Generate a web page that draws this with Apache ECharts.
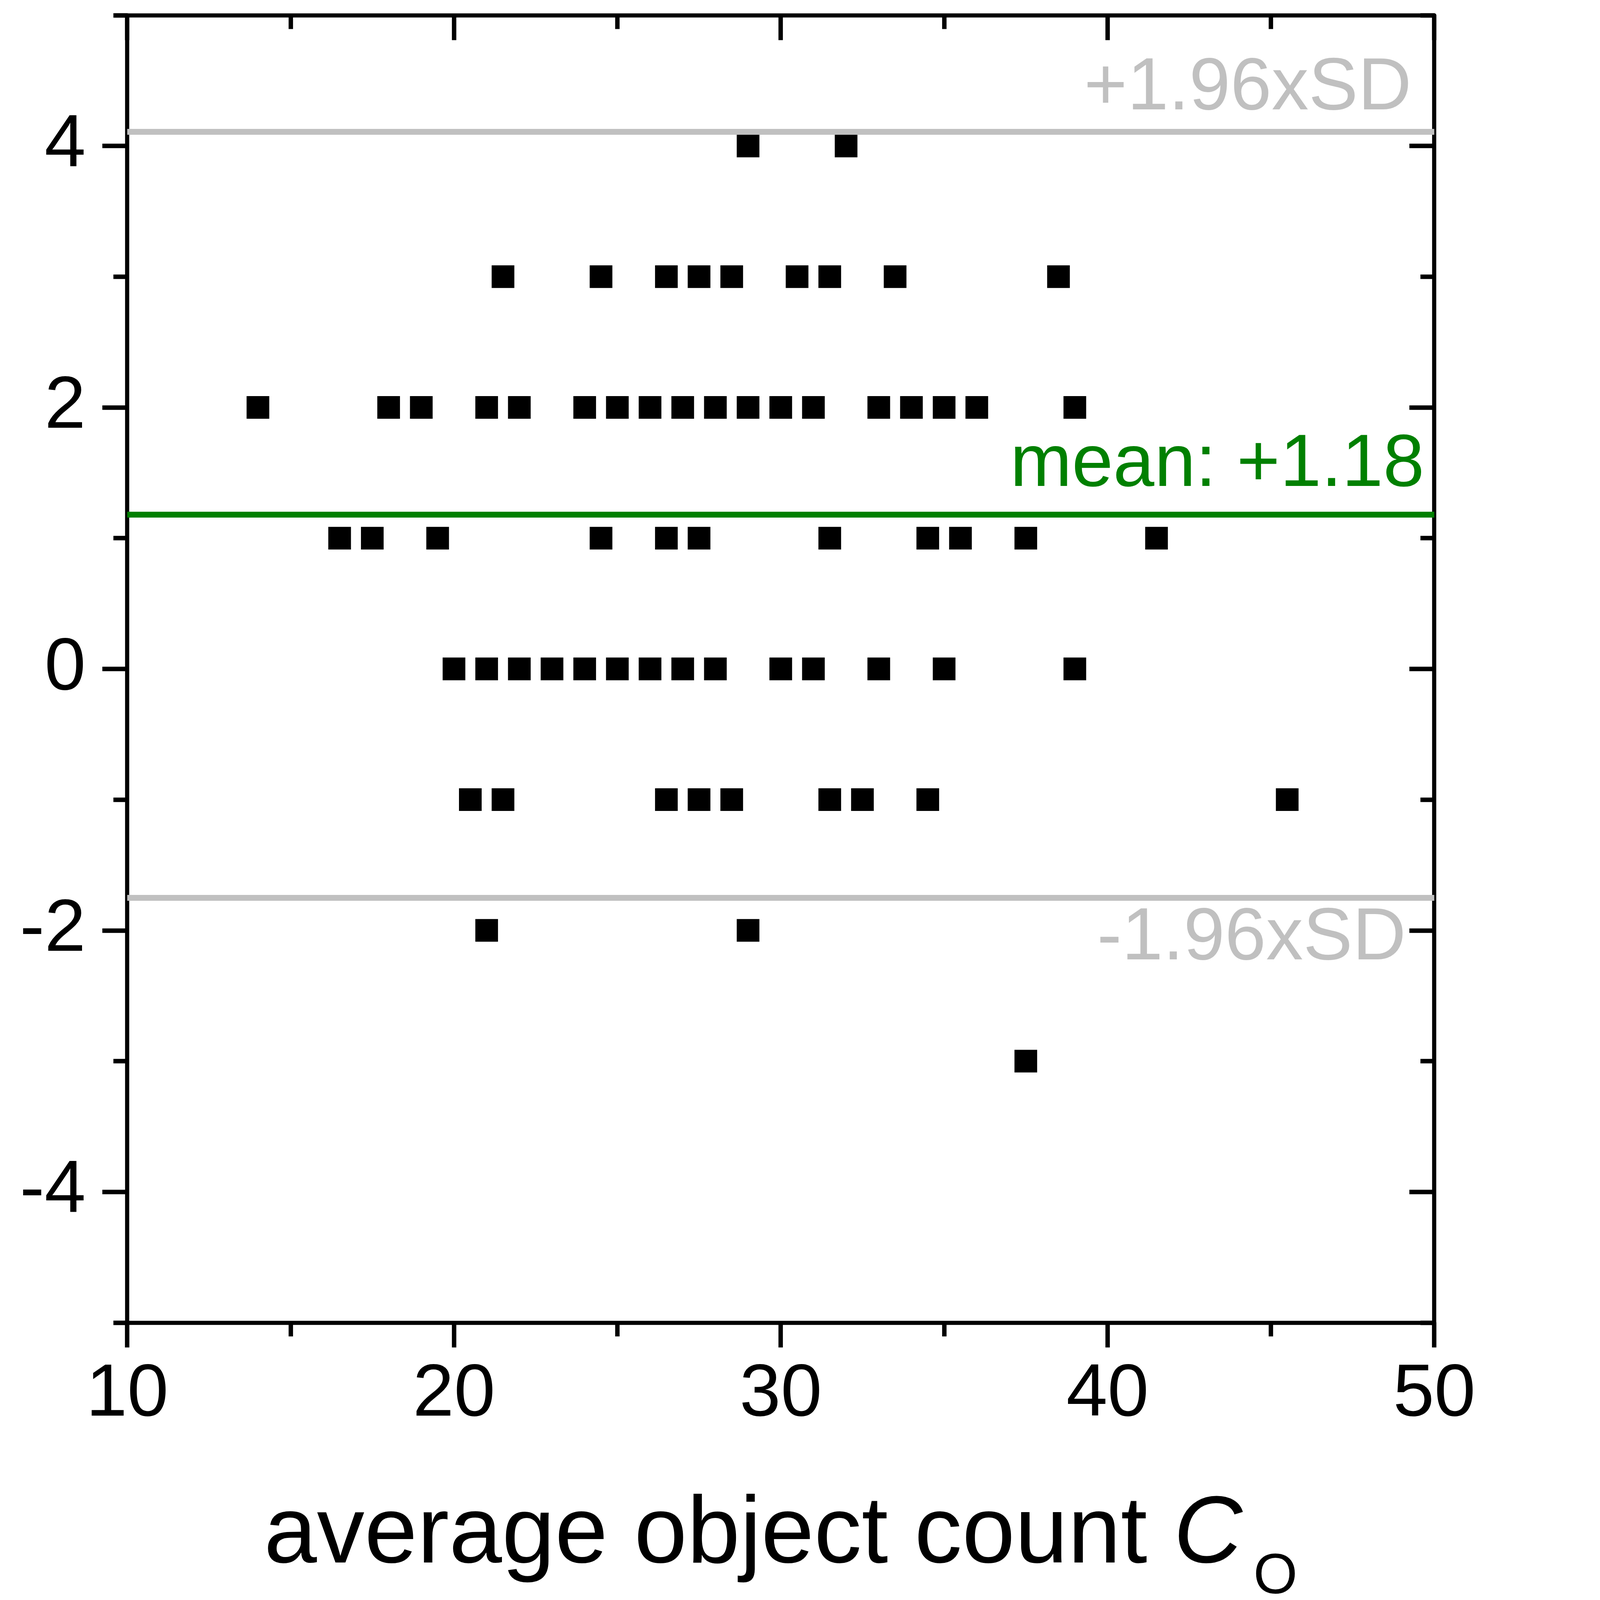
<!DOCTYPE html>
<html>
<head>
<meta charset="utf-8">
<script src="https://cdn.jsdelivr.net/npm/echarts@6/dist/echarts.min.js"></script>
<style>
html,body{margin:0;padding:0;background:#fff;overflow:hidden;}
#chart{width:5346px;height:5785px;}
</style>
</head>
<body>
<div id="chart"></div>
<script>
// Bland-Altman data: average object count vs. difference
const avgCount = [
  29, 32,
  21.5, 24.5, 26.5, 27.5, 28.5, 30.5, 31.5, 33.5, 38.5,
  14, 18, 19, 21, 22, 24, 25, 26, 27, 28, 29, 30, 31, 33, 34, 35, 36, 39,
  16.5, 17.5, 19.5, 24.5, 26.5, 27.5, 31.5, 34.5, 35.5, 37.5, 41.5,
  20, 21, 22, 23, 24, 25, 26, 27, 28, 30, 31, 33, 35, 39,
  20.5, 21.5, 26.5, 27.5, 28.5, 31.5, 32.5, 34.5, 45.5,
  21, 29,
  37.5
];
const difference = [
  4, 4,
  3, 3, 3, 3, 3, 3, 3, 3, 3,
  2, 2, 2, 2, 2, 2, 2, 2, 2, 2, 2, 2, 2, 2, 2, 2, 2, 2,
  1, 1, 1, 1, 1, 1, 1, 1, 1, 1, 1,
  0, 0, 0, 0, 0, 0, 0, 0, 0, 0, 0, 0, 0, 0,
  -1, -1, -1, -1, -1, -1, -1, -1, -1,
  -2, -2,
  -3
];
const meanDiff = 1.18;
const upperLimit = 4.11;
const lowerLimit = -1.75;
const upperLabel = '+1.96xSD';
const lowerLabel = '-1.96xSD';
const meanLabel = 'mean: +1.18';
const xTicks = [10, 20, 30, 40, 50];
const yMajorTicks = [-4, -2, 0, 2, 4];
const yMinorTicks = [-5, -3, -1, 1, 3, 5];

const points = avgCount.map((x, i) => [x, difference[i]]);

// scale everything to the actual window (1 when the window is 5346x5785)
const S = Math.min((window.innerWidth || 5346) / 5346, (window.innerHeight || 5785) / 5785, 1);
const el = document.getElementById('chart');
el.style.width = Math.floor(5346 * S) + 'px';
el.style.height = Math.floor(5785 * S) + 'px';
const k = v => v * S;

const FONT = '"Liberation Sans", Arial, sans-serif';
const LW = k(15);
const TW = k(16);
const MAJ = k(90), MIN = k(50);
const TICK_FONT = k(268);

function xAx(pos, inside, showLabel) {
  return {
    type: 'value', position: pos, min: xTicks[0], max: xTicks[xTicks.length - 1], interval: 10,
    axisLine: { show: true, onZero: false, lineStyle: { color: '#000', width: LW } },
    axisTick: { show: true, inside: inside, length: MAJ, lineStyle: { color: '#000', width: TW } },
    minorTick: { show: true, splitNumber: 2, length: MIN, lineStyle: { color: '#000', width: TW } },
    splitLine: { show: false },
    minorSplitLine: { show: false },
    axisLabel: { show: showLabel, fontSize: TICK_FONT, color: '#000', fontFamily: FONT, margin: k(128) },
    name: showLabel ? '{n|average object count }{i|C}{s|O}' : '',
    nameLocation: 'middle',
    nameGap: k(600),
    nameTextStyle: {
      rich: {
        n: { fontSize: k(344), fontFamily: FONT, color: '#000', verticalAlign: 'top' },
        i: { fontSize: k(344), fontFamily: FONT, fontStyle: 'italic', color: '#000', verticalAlign: 'top' },
        s: { fontSize: k(205), fontFamily: FONT, color: '#000', verticalAlign: 'top', padding: [k(220), 0, 0, k(40)] }
      }
    }
  };
}
function yAx(pos, inside, ticks, len, showLine, showLabel) {
  return {
    type: 'value', position: pos, min: -5, max: 5,
    axisLine: { show: showLine, onZero: false, lineStyle: { color: '#000', width: LW } },
    axisTick: { show: true, inside: inside, length: len, customValues: ticks, lineStyle: { color: '#000', width: TW } },
    splitLine: { show: false },
    axisLabel: { show: showLabel, customValues: yMajorTicks, fontSize: TICK_FONT, color: '#000', fontFamily: FONT, margin: k(150) }
  };
}

const chart = echarts.init(el);
chart.setOption({
  animation: false,
  backgroundColor: '#fff',
  grid: { left: k(460), right: k(160), top: k(55), bottom: k(1003), containLabel: false, outerBoundsMode: 'none' },
  xAxis: [ xAx('bottom', false, true), xAx('top', true, false) ],
  yAxis: [
    yAx('left', false, yMajorTicks, MAJ, true, true),
    yAx('left', false, yMinorTicks, MIN, false, false),
    yAx('right', true, yMajorTicks, MAJ, true, false),
    yAx('right', true, yMinorTicks, MIN, false, false)
  ],
  series: [{
    type: 'scatter',
    xAxisIndex: 0, yAxisIndex: 0,
    data: points,
    symbol: 'rect',
    symbolSize: k(82),
    itemStyle: { color: '#000', opacity: 1 },
    markLine: {
      silent: true,
      symbol: 'none',
      animation: false,
      data: [
        { yAxis: upperLimit, lineStyle: { color: '#c0c0c0', width: k(21), type: 'solid', opacity: 1 },
          label: { show: true, formatter: upperLabel, position: 'insideEndTop', distance: [k(82), k(20)], color: '#c0c0c0', fontSize: k(268), fontFamily: FONT } },
        { yAxis: meanDiff, lineStyle: { color: '#008000', width: k(21), type: 'solid', opacity: 1 },
          label: { show: true, formatter: meanLabel, position: 'insideEndTop', distance: [k(36), k(44)], color: '#008000', fontSize: k(268), fontFamily: FONT } },
        { yAxis: lowerLimit, lineStyle: { color: '#c0c0c0', width: k(21), type: 'solid', opacity: 1 },
          label: { show: true, formatter: lowerLabel, position: 'insideEndBottom', distance: [k(102), k(15)], color: '#c0c0c0', fontSize: k(268), fontFamily: FONT } }
      ]
    }
  }]
});
</script>
</body>
</html>
